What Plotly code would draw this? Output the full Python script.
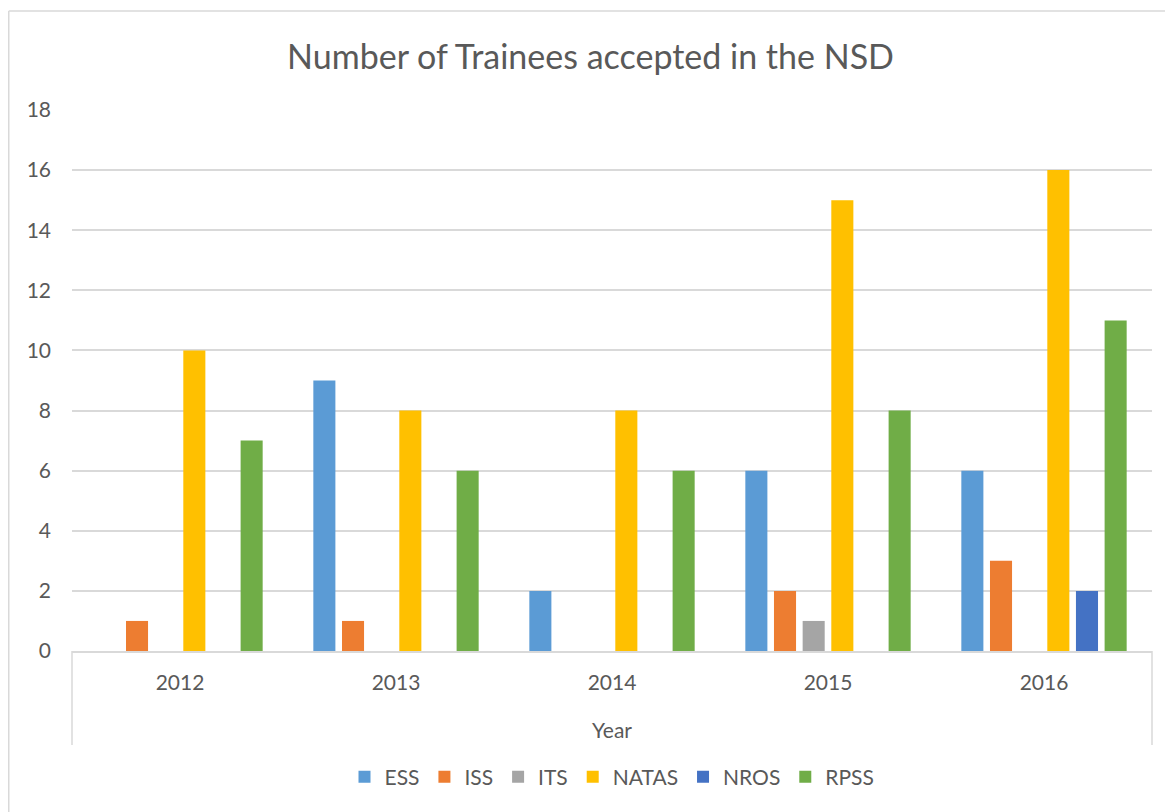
import plotly.graph_objects as go

years = ["2012", "2013", "2014", "2015", "2016"]
series_names = ["ESS", "ISS", "ITS", "NATAS", "NROS", "RPSS"]
ess = [0, 9, 2, 6, 6]
iss = [1, 1, 0, 2, 3]
its = [0, 0, 0, 1, 0]
natas = [10, 8, 8, 15, 16]
nros = [0, 0, 0, 0, 2]
rpss = [7, 6, 6, 8, 11]
y_ticks = [0, 2, 4, 6, 8, 10, 12, 14, 16, 18]

values = [ess, iss, its, natas, nros, rpss]
colors = ["#5B9BD5", "#ED7D31", "#A5A5A5", "#FFC000", "#4472C4", "#70AD47"]

FONT = "Lato"
TXT = "#595959"
GRID = "#D9D9D9"

fig = go.Figure()
for name, vals, col in zip(series_names, values, colors):
    fig.add_trace(go.Bar(name=name, x=years, y=vals, marker=dict(color=col, line=dict(width=0))))

# page body has an 8px margin; work in figure coordinates = reference - 8
OFF = 8
W, H = 1173 - OFF, 812 - OFF
L, T = 72 - OFF, 110 - OFF
R = W - (1152 - OFF)
B = H - (651 - OFF)
ph = H - T - B
pw = W - L - R

fig.update_layout(
    width=W, height=H,
    margin=dict(l=L, r=R, t=T, b=B, pad=0),
    paper_bgcolor="white", plot_bgcolor="white",
    barmode="group", bargap=0.204, bargroupgap=0.23,
    font=dict(family=FONT, color=TXT, size=21),
    title=dict(text="Number of Trainees accepted in the NSD", x=0.5, xanchor="center",
               y=1 - (57 - OFF) / H, yanchor="middle", font=dict(size=34, color=TXT, family=FONT)),
    xaxis=dict(showline=True, linecolor=GRID, linewidth=1.5, ticks="", showgrid=False,
               tickfont=dict(size=21, color=TXT), ticklabelstandoff=12),
    yaxis=dict(range=[0, 18], tickvals=y_ticks, showgrid=True, gridcolor=GRID, gridwidth=1.5,
               zeroline=False, showline=False, ticks="", ticklabelstandoff=20,
               tickfont=dict(size=21, color=TXT)),
    legend=dict(orientation="h", x=0.5, xanchor="center", y=-(777 - 651) / ph, yanchor="middle",
                font=dict(size=21, color=TXT), itemwidth=30, traceorder="normal"),
    showlegend=True,
)

fig.add_annotation(text="Year", xref="paper", yref="paper", x=0.5, y=-(729 - 651) / ph,
                   xanchor="center", yanchor="middle", showarrow=False,
                   font=dict(size=21, color=TXT, family=FONT))

# category frame lines below axis
for xp in [0, 1]:
    fig.add_shape(type="line", xref="paper", yref="paper", x0=xp, x1=xp, y0=0, y1=-(745 - 651) / ph,
                  line=dict(color=GRID, width=1.5))

# chart border (top and left)
bx = (8 - 72) / pw + 0.0007
by = 1 + (110 - 11) / ph
fig.add_shape(type="line", xref="paper", yref="paper",
              x0=bx, x1=1 + (R + 5) / pw, y0=by, y1=by, line=dict(color=GRID, width=1.5))
fig.add_shape(type="line", xref="paper", yref="paper",
              x0=bx, x1=bx, y0=by, y1=-(B + 5) / ph, line=dict(color=GRID, width=1.5))

fig.write_html("out.html")
